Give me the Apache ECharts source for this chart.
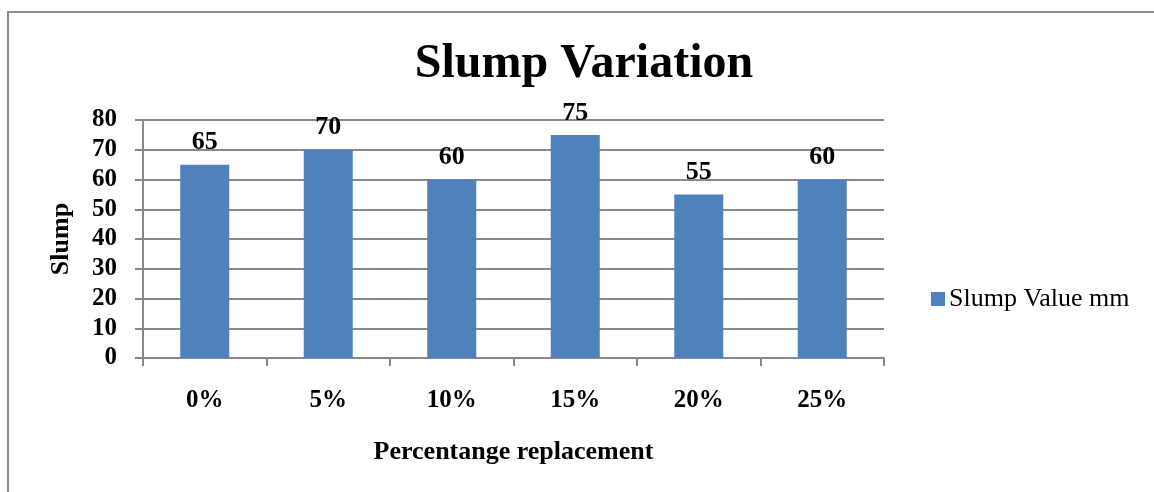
<!DOCTYPE html>
<html>
<head>
<meta charset="utf-8">
<script src="https://cdn.jsdelivr.net/npm/echarts@6/dist/echarts.min.js"></script>
<style>
  html, body { margin: 0; padding: 0; background: #fff; }
  #main { width: 1154px; height: 492px; }
</style>
</head>
<body>
<div id="main"></div>
<script>
// 数据
var categories = ['0%', '5%', '10%', '15%', '20%', '25%']
var slumpValues = [65, 70, 60, 75, 55, 60]
var seriesName = 'Slump Value mm'

var font = '"Liberation Serif", "Times New Roman", serif'
var gridColor = '#898989'

var myChart = echarts.init(document.getElementById('main'))
var option = {
  animation: false,
  backgroundColor: '#fff',
  // 外框 (只看得到左边和上边)
  graphic: [{
    type: 'rect',
    shape: { x: 8, y: 12, width: 1200, height: 600 },
    style: { fill: 'none', stroke: '#8c8c8c', lineWidth: 2 },
    silent: true
  }],
  title: {
    text: 'Slump Variation',
    left: 579,
    textAlign: 'center',
    top: 36,
    textStyle: {
      fontFamily: font,
      fontSize: 48,
      fontWeight: 'bold',
      color: '#000'
    }
  },
  legend: {
    data: [seriesName],
    left: 926,
    top: 281,
    icon: 'rect',
    itemWidth: 14,
    itemHeight: 14,
    itemGap: 6,
    textStyle: {
      fontFamily: font,
      fontSize: 26,
      color: '#000',
      padding: [0, 0, 0, -1]
    }
  },
  grid: {
    left: 143,
    right: 270,
    top: 120,
    bottom: 134,
    containLabel: false
  },
  xAxis: {
    type: 'category',
    data: categories,
    name: 'Percentange replacement',
    nameLocation: 'middle',
    nameGap: 81,
    nameTextStyle: {
      fontFamily: font,
      fontSize: 26,
      fontWeight: 'bold',
      color: '#000'
    },
    axisLine: { lineStyle: { color: gridColor, width: 2 } },
    axisTick: { show: true, length: 8, lineStyle: { color: gridColor, width: 2 } },
    axisLabel: {
      margin: 30,
      fontFamily: font,
      fontSize: 25,
      fontWeight: 'bold',
      color: '#000'
    }
  },
  yAxis: {
    type: 'value',
    min: 0,
    max: 80,
    interval: 10,
    name: 'Slump',
    nameLocation: 'middle',
    nameGap: 69,
    nameRotate: 90,
    nameTextStyle: {
      fontFamily: font,
      fontSize: 26,
      fontWeight: 'bold',
      color: '#000'
    },
    axisLine: { show: true, lineStyle: { color: gridColor, width: 2 } },
    axisTick: { show: true, length: 8, lineStyle: { color: gridColor, width: 2 } },
    splitLine: { lineStyle: { color: gridColor, width: 2 } },
    axisLabel: {
      margin: 26,
      fontFamily: font,
      fontSize: 25,
      fontWeight: 'bold',
      color: '#000'
    }
  },
  series: [{
    name: seriesName,
    type: 'bar',
    data: slumpValues,
    barWidth: 49,
    itemStyle: { color: '#4F81BD' },
    label: {
      show: true,
      position: 'top',
      distance: 9,
      fontFamily: font,
      fontSize: 26,
      fontWeight: 'bold',
      color: '#000'
    }
  }]
}
myChart.setOption(option)
window.addEventListener('resize', function () {
  myChart.resize()
})
</script>
</body>
</html>
